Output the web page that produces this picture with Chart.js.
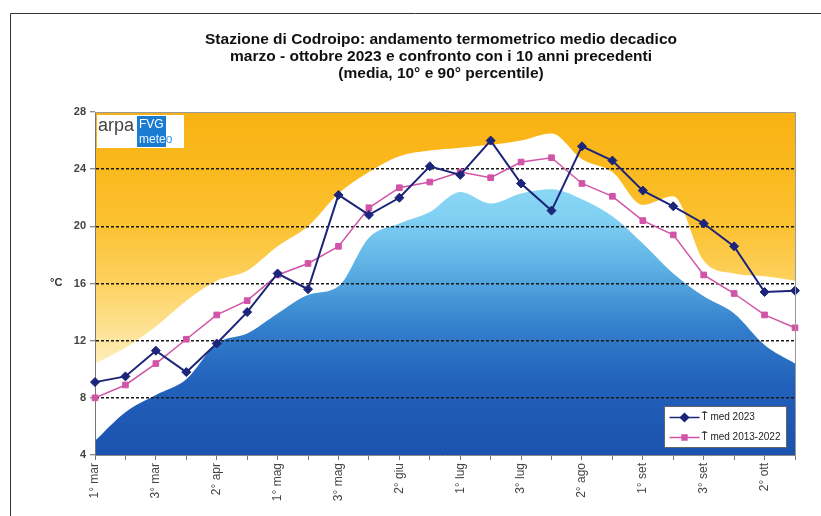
<!DOCTYPE html>
<html>
<head>
<meta charset="utf-8">
<script src="https://cdn.jsdelivr.net/npm/chart.js@4/dist/chart.umd.min.js"></script>
<style>
  body { margin: 0; background: #fff; }
  #wrap { width: 821px; height: 516px; }
</style>
</head>
<body>
<div id="wrap"><canvas id="myChart" width="821" height="516"></canvas></div>
<script>
// decadi (1°, 2°, 3° decade of each month)
const decades = ['1° mar','2° mar','3° mar','1° apr','2° apr','3° apr','1° mag','2° mag','3° mag',
  '1° giu','2° giu','3° giu','1° lug','2° lug','3° lug','1° ago','2° ago','3° ago',
  '1° set','2° set','3° set','1° ott','2° ott','3° ott'];

// temperature medie decadiche (°C)
const tMed2023 = [9.1, 9.5, 11.3, 9.8, 11.8, 14.0, 16.7, 15.6, 22.2, 20.8, 22.0, 24.2,
  23.6, 26.0, 23.0, 21.1, 25.6, 24.6, 22.5, 21.4, 20.2, 18.6, 15.4, 15.5];
const tMed1322 = [8.0, 8.9, 10.4, 12.1, 13.8, 14.8, 16.6, 17.4, 18.6, 21.3, 22.7, 23.1,
  23.8, 23.4, 24.5, 24.8, 23.0, 22.1, 20.4, 19.4, 16.6, 15.3, 13.8, 12.9];

// percentili 2013-2022
const p10 = [5.0, 7.0, 8.2, 9.3, 11.8, 12.5, 13.9, 15.2, 15.8, 19.2, 20.2, 21.0,
  22.4, 21.6, 22.3, 22.6, 21.9, 20.7, 18.8, 16.7, 15.1, 13.9, 11.7, 10.4];
const p90 = [10.4, 11.5, 13.0, 14.8, 16.2, 16.9, 18.6, 20.0, 22.3, 23.8, 24.9, 25.3,
  25.5, 25.7, 26.0, 26.5, 24.7, 23.8, 21.5, 22.1, 17.6, 16.7, 16.5, 16.2];

const yTicks = [4, 8, 12, 16, 20, 24, 28];

const titleLines = [
  'Stazione di Codroipo: andamento termometrico medio decadico',
  'marzo - ottobre 2023 e confronto con i 10 anni precedenti',
  '(media, 10° e 90° percentile)'
];

const FONT = '"Liberation Sans", Arial, sans-serif';
const NAVY = '#1c2579';
const PINK = '#d154a8';

// vertical gradients built on the y scale
function gradient(context, stops) {
  const chart = context.chart;
  const area = chart.chartArea;
  if (!area) return 'rgba(0,0,0,0)';
  const y = chart.scales.y;
  const g = chart.ctx.createLinearGradient(0, area.bottom, 0, area.top);
  const span = area.bottom - area.top;
  stops.forEach(s => {
    const p = (area.bottom - y.getPixelForValue(s[0])) / span;
    g.addColorStop(Math.min(1, Math.max(0, p)), s[1]);
  });
  return g;
}
const blueFill = c => gradient(c, [[4, '#1b52ae'], [9, '#2261bb'], [13, '#3380cc'], [17, '#5cafe3'], [20.5, '#7fd0f2'], [24, '#92dbf6']]);
const orangeFill = c => gradient(c, [[9, '#fef4cf'], [12, '#fde6a0'], [16, '#fdd260'], [20, '#fcc232'], [24, '#fab91e'], [28, '#f9b213']]);

const decor = {
  id: 'decor',
  afterDraw(chart) {
    const ctx = chart.ctx;
    const a = chart.chartArea;
    ctx.save();

    // outer frame
    ctx.strokeStyle = '#333';
    ctx.lineWidth = 1;
    ctx.beginPath();
    ctx.moveTo(10.5, 516);
    ctx.lineTo(10.5, 13.5);
    ctx.lineTo(821, 13.5);
    ctx.stroke();

    // plot frame top / right
    ctx.strokeStyle = '#9a9a9a';
    ctx.beginPath();
    ctx.moveTo(a.left, a.top + 0.5);
    ctx.lineTo(a.right + 0.5, a.top + 0.5);
    ctx.lineTo(a.right + 0.5, a.bottom);
    ctx.stroke();

    // title
    ctx.fillStyle = '#111';
    ctx.font = 'bold 15.5px ' + FONT;
    ctx.textAlign = 'center';
    ctx.textBaseline = 'middle';
    titleLines.forEach((t, i) => ctx.fillText(t, 441, 40 + i * 17));

    // unit
    ctx.font = 'bold 11px ' + FONT;
    ctx.fillStyle = '#333';
    ctx.textAlign = 'left';
    ctx.fillText('°C', 50, 283);

    // logo
    ctx.fillStyle = '#fff';
    ctx.fillRect(a.left + 2, a.top + 3, 87, 33);
    ctx.fillStyle = '#444';
    ctx.font = '18px ' + FONT;
    ctx.textBaseline = 'alphabetic';
    ctx.fillText('arpa', a.left + 3, a.top + 19);
    ctx.fillStyle = '#1b7bd0';
    ctx.fillRect(a.left + 42, a.top + 4, 29, 31);
    ctx.fillStyle = '#fff';
    ctx.font = '12px ' + FONT;
    ctx.fillText('FVG', a.left + 44, a.top + 16);
    ctx.fillStyle = '#3d96dc';
    ctx.fillText('meteo', a.left + 44, a.top + 31);
    ctx.save();
    ctx.beginPath();
    ctx.rect(a.left + 42, a.top + 4, 29, 31);
    ctx.clip();
    ctx.fillStyle = '#dcefff';
    ctx.fillText('meteo', a.left + 44, a.top + 31);
    ctx.restore();

    // legend
    const lx = 664.5, ly = 406.5;
    ctx.fillStyle = '#fff';
    ctx.fillRect(lx, ly, 122, 41);
    ctx.strokeStyle = '#666';
    ctx.strokeRect(lx, ly, 122, 41);
    const rows = [
      { text: 'T\u0304 med 2023', color: NAVY, style: 'rectRot', r: 4 },
      { text: 'T\u0304 med 2013-2022', color: PINK, style: 'rect', r: 3.5 }
    ];
    rows.forEach((row, i) => {
      const yy = ly + 11 + i * 20;
      ctx.strokeStyle = row.color;
      ctx.lineWidth = 1.5;
      ctx.beginPath();
      ctx.moveTo(lx + 5, yy);
      ctx.lineTo(lx + 35, yy);
      ctx.stroke();
      ctx.fillStyle = row.color;
      Chart.helpers.drawPoint(ctx, { pointStyle: row.style, radius: row.r, borderWidth: 1 }, lx + 20, yy);
      ctx.fill();
      ctx.fillStyle = '#222';
      ctx.font = '10px ' + FONT;
      ctx.textBaseline = 'middle';
      ctx.fillText(row.text, lx + 37, yy);
    });
    ctx.restore();
  }
};

const ctx = document.getElementById('myChart').getContext('2d');
const myChart = new Chart(ctx, {
  type: 'line',
  data: {
    labels: decades,
    datasets: [
      {
        label: 'T med 2023',
        data: tMed2023,
        borderColor: NAVY,
        backgroundColor: NAVY,
        borderWidth: 2,
        pointStyle: 'rectRot',
        pointRadius: 4.5,
        pointBorderWidth: 1,
        fill: false,
        order: 0
      },
      {
        label: 'T med 2013-2022',
        data: tMed1322,
        borderColor: PINK,
        backgroundColor: PINK,
        borderWidth: 1.5,
        pointStyle: 'rect',
        pointRadius: 4,
        pointBorderWidth: 1,
        fill: false,
        order: 1
      },
      {
        label: '90° percentile',
        data: p90,
        borderWidth: 0,
        borderColor: 'rgba(0,0,0,0)',
        pointRadius: 0,
        fill: 'end',
        backgroundColor: orangeFill,
        cubicInterpolationMode: 'monotone',
        order: 2
      },
      {
        label: '10° percentile',
        data: p10,
        borderWidth: 0,
        borderColor: 'rgba(0,0,0,0)',
        pointRadius: 0,
        fill: 'start',
        backgroundColor: blueFill,
        cubicInterpolationMode: 'monotone',
        order: 3
      }
    ]
  },
  options: {
    responsive: false,
    animation: false,
    layout: { padding: { left: 20, right: 26, top: 112, bottom: 0 } },
    plugins: {
      legend: { display: false },
      tooltip: { enabled: false },
      filler: { drawTime: 'beforeDraw' }
    },
    scales: {
      x: {
        grid: { drawOnChartArea: false, tickLength: 5, color: '#777' },
        border: { color: '#888' },
        ticks: {
          autoSkip: false,
          minRotation: 90,
          maxRotation: 90,
          padding: 3,
          color: '#444',
          font: { family: FONT, size: 12 },
          callback: (v, i) => (i % 2 === 0 ? decades[i] : '')
        },
        afterFit: s => { s.height = 61; }
      },
      y: {
        min: 4,
        max: 28,
        afterBuildTicks: s => { s.ticks = yTicks.map(v => ({ value: v })); },
        ticks: { color: '#444', padding: 4, font: { family: FONT, size: 11, weight: 'bold' } },
        grid: {
          color: c => (c.tick && (c.tick.value === 4 || c.tick.value === 28)) ? 'rgba(0,0,0,0)' : '#1a1a1a',
          lineWidth: 1.5,
          tickLength: 5,
          tickColor: '#666',
          tickWidth: 1
        },
        border: { color: '#777', dash: [3, 2] },
        afterFit: s => { s.width = 75; }
      }
    }
  },
  plugins: [decor]
});
</script>
</body>
</html>
